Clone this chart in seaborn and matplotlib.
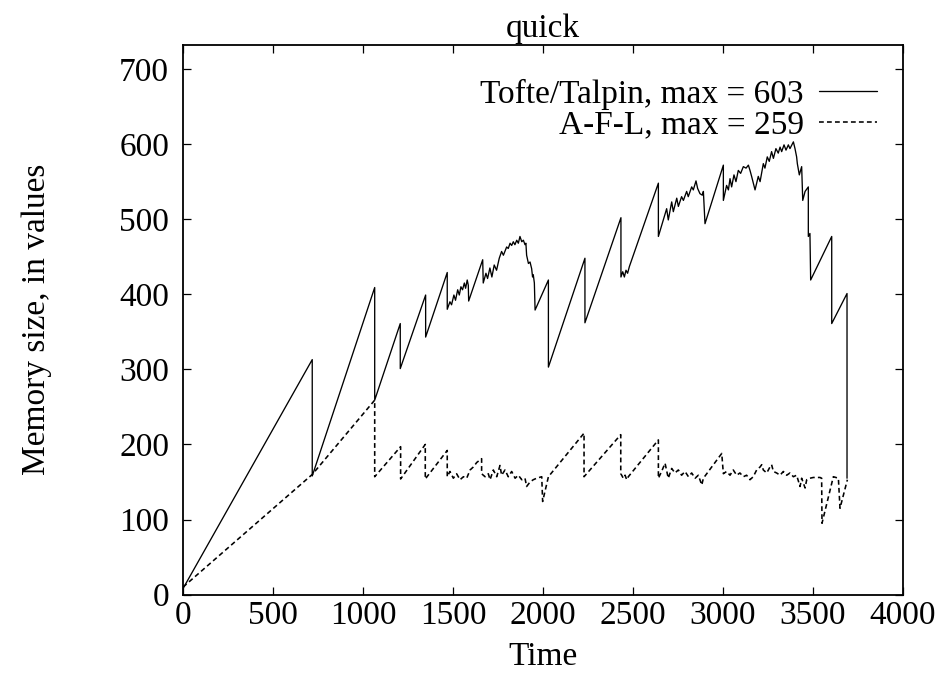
import matplotlib
matplotlib.use("Agg")
import matplotlib.pyplot as plt
import seaborn as sns
import pandas as pd

# ---------------- data ----------------
tofte_time = [0, 718, 718, 1065, 1065, 1207, 1207, 1348, 1348, 1468, 1468,
              1483, 1492, 1505, 1514, 1526, 1535, 1544, 1553, 1563, 1570, 1579, 1585, 1587,
              1665, 1668,
              1683, 1692, 1705, 1716, 1729, 1742, 1757, 1770, 1780, 1798, 1807, 1817, 1826,
              1835, 1844, 1854, 1863, 1872, 1882, 1891, 1900, 1905, 1909, 1919, 1928, 1937,
              1942, 1946, 1952, 1956,
              2030, 2030, 2233, 2233, 2433, 2433,
              2443, 2452, 2461, 2470, 2480,
              2641, 2641,
              2687, 2696, 2715, 2724, 2743, 2752, 2770, 2780, 2798, 2807, 2826, 2835, 2850,
              2859, 2872, 2885, 2891, 2900,
              3002, 3002,
              3020, 3030, 3039, 3048, 3061, 3072, 3085, 3098, 3113, 3128, 3141, 3150, 3159,
              3178, 3196, 3206, 3224, 3233, 3246, 3257, 3270, 3280, 3294, 3307, 3317, 3326,
              3339, 3350, 3363, 3372, 3391, 3400, 3409, 3413, 3424, 3437, 3443, 3456, 3474,
              3474, 3483, 3487, 3604, 3604, 3689, 3689]
tofte_mem = [8, 313, 158, 409, 259, 361, 301, 399, 343, 429, 380,
             390, 386, 399, 392, 406, 399, 410, 406, 415, 408, 419, 412, 391,
             446, 415,
             428, 421, 435, 423, 439, 432, 448, 457, 452, 463, 461, 468, 465,
             470, 466, 472, 468, 477, 470, 472, 466, 468, 452, 441, 443, 434,
             423, 426, 415, 379,
             419, 303, 448, 362, 502, 423,
             430, 423, 432, 428, 437,
             548, 477,
             514, 499, 523, 510, 528, 517, 530, 525, 537, 530, 543, 539, 551,
             541, 534, 532, 537, 494,
             572, 525,
             545, 539, 554, 543, 559, 550, 565, 561, 570, 568, 572, 565, 557,
             539, 557, 550, 574, 568, 583, 577, 590, 581, 594, 588, 596, 590,
             599, 592, 599, 594, 603, 594, 583, 574, 559, 570, 525, 537, 543,
             477, 481, 419, 477, 361, 401, 155]

afl_time = [0, 718, 1065, 1065, 1209, 1209, 1346, 1346, 1468, 1468,
            1483, 1502, 1520, 1539, 1558, 1576, 1595, 1613, 1632, 1659, 1659, 1678, 1696,
            1706, 1724, 1743, 1761, 1770, 1789, 1807, 1826, 1845, 1863, 1882, 1900, 1909,
            1928, 1946, 1965, 1993, 1998, 2030,
            2228, 2228, 2432, 2432,
            2437, 2446, 2456, 2465, 2474,
            2641, 2641,
            2659, 2678, 2696, 2715, 2733, 2752, 2770, 2789, 2808, 2826, 2845, 2863, 2882, 2891,
            2993, 3002,
            3020, 3039, 3057, 3076, 3094, 3113, 3131, 3150, 3168, 3187, 3206, 3215, 3224,
            3243, 3261, 3270, 3280, 3298, 3317, 3335, 3354, 3372, 3391, 3409, 3428, 3437,
            3456, 3465, 3483, 3502, 3539, 3548, 3550, 3613, 3641, 3650, 3691]
afl_mem = [10, 160, 259, 157, 197, 154, 200, 154, 192, 157,
           164, 155, 161, 153, 157, 155, 166, 170, 176, 181, 161, 157, 161,
           153, 166, 157, 172, 159, 166, 157, 164, 155, 159, 153, 155, 144,
           150, 153, 155, 157, 124, 157,
           215, 157, 213, 161,
           159, 155, 159, 153, 157,
           206, 155,
           164, 175, 155, 168, 162, 166, 159, 164, 157, 162, 155, 159, 146, 155,
           188, 161,
           164, 159, 166, 159, 162, 157, 159, 153, 157, 166, 170, 173, 166,
           162, 170, 173, 164, 162, 159, 164, 159, 162, 157, 159, 144, 155,
           142, 153, 155, 156, 156, 155, 95, 157, 155, 115, 153]

series_names = ["Tofte/Talpin, max = 603", "A-F-L, max = 259"]
title_text = "quick"
x_label = "Time"
y_label = "Memory size, in values"
x_ticks = [0, 500, 1000, 1500, 2000, 2500, 3000, 3500, 4000]
y_ticks = [0, 100, 200, 300, 400, 500, 600, 700]

# ---------------- plotting ----------------
sns.set_style("ticks")
FS = 24
plt.rcParams.update({
    "font.family": ["Liberation Serif", "DejaVu Serif"],
    "font.size": FS,
    "text.color": "black",
    "axes.labelcolor": "black",
    "xtick.color": "black",
    "ytick.color": "black",
})

df_t = pd.DataFrame({"Time": tofte_time, "Mem": tofte_mem})
df_a = pd.DataFrame({"Time": afl_time, "Mem": afl_mem})

fig = plt.figure(figsize=(9.41, 6.76), dpi=100)
ax = fig.add_axes([183 / 941, (676 - 594.6) / 676, 720 / 941, (594.6 - 45) / 676])

sns.lineplot(data=df_t, x="Time", y="Mem", ax=ax, estimator=None, sort=False,
             color="black", linewidth=0.95, label=series_names[0])
sns.lineplot(data=df_a, x="Time", y="Mem", ax=ax, estimator=None, sort=False,
             color="black", linewidth=1.15, linestyle=(0, (3, 2)), label=series_names[1])

ax.set_xlim(0, 4000)
ax.set_ylim(0, 732)
ax.set_xticks(x_ticks)
ax.set_yticks(y_ticks)
ax.tick_params(axis="both", direction="in", length=6, width=0.9, top=True, right=True,
               labelsize=FS, colors="black")
ax.tick_params(axis="x", pad=4)
ax.tick_params(axis="y", pad=10)
for sp in ax.spines.values():
    sp.set_linewidth(1.3)
    sp.set_color("black")

ax.set_title(title_text, fontsize=FS, pad=5.5, color="black")
ax.set_xlabel(x_label, fontsize=FS, labelpad=8)
ax.set_ylabel(y_label, fontsize=FS, labelpad=48)

leg = ax.legend(loc="upper right", bbox_to_anchor=(0.964, 0.939), frameon=False,
                markerfirst=False, handlelength=1.75, handletextpad=0.45,
                labelspacing=0.02, borderpad=0, borderaxespad=0, fontsize=FS)
for t in leg.get_texts():
    t.set_color("black")

fig.savefig("out.png", dpi=100)
